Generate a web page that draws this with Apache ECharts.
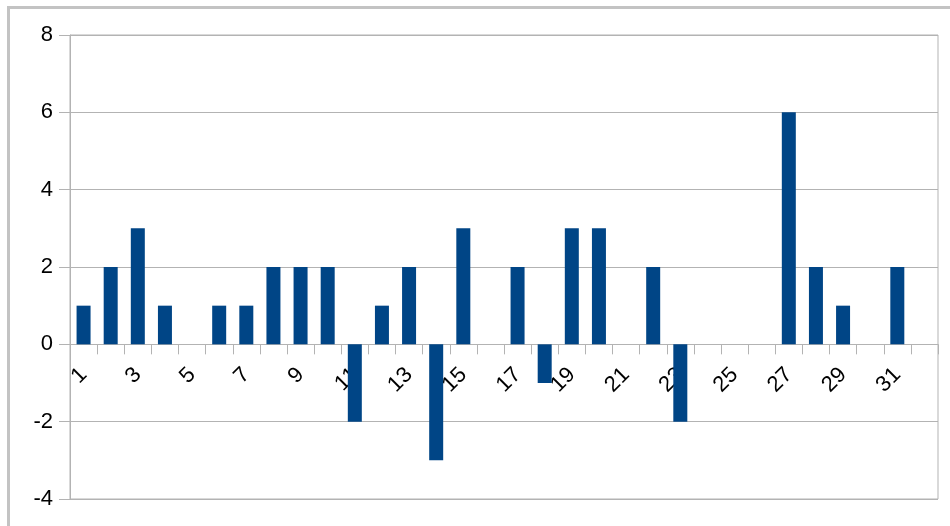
<!DOCTYPE html>
<html>
<head>
<meta charset="utf-8">
<script src="https://cdn.jsdelivr.net/npm/echarts@6/dist/echarts.min.js"></script>
<style>
  html, body { margin: 0; padding: 0; background: #fff; }
  #chart { width: 950px; height: 526px; }
</style>
</head>
<body>
<div id="chart"></div>
<script>
// categories 1..32 (32 has no value, its label is skipped)
const days = [];
for (let d = 1; d <= 32; d++) days.push(String(d));

const values = [1, 2, 3, 1, 0, 1, 1, 2, 2, 2, -2, 1, 2, -3, 3, 0,
  2, -1, 3, 3, 0, 2, -2, 0, 0, 0, 6, 2, 1, 0, 2, null];

const yMin = -4;
const yMax = 8;
const yStep = 2;

const font = "Liberation Sans";

const gridTop = 35;
const gridBottom = 27;
const plotHeight = 526 - gridTop - gridBottom;
// move the category axis up to the zero line
const zeroOffset = -plotHeight * (0 - yMin) / (yMax - yMin);

const chart = echarts.init(document.getElementById("chart"));

chart.setOption({
  animation: false,
  graphic: [
    {
      type: "rect",
      shape: { x: 8.5, y: 7.5, width: 960, height: 540 },
      style: { fill: "none", stroke: "#c3c3c3", lineWidth: 3 },
      silent: true,
    },
  ],
  grid: {
    left: 70,
    right: 12,
    top: gridTop,
    bottom: gridBottom,
    outerBoundsMode: "none",
    containLabel: false,
    show: true,
    borderColor: "#b3b3b3",
    borderWidth: 1,
  },
  xAxis: {
    type: "category",
    data: days,
    position: "bottom",
    offset: zeroOffset,
    axisLine: { onZero: false, lineStyle: { color: "#b3b3b3", width: 1 } },
    axisTick: {
      show: true,
      inside: false,
      length: 10,
      alignWithLabel: false,
      interval: 0,
      lineStyle: { color: "#b3b3b3" },
    },
    axisLabel: {
      interval: 1,
      rotate: 45,
      margin: 27,
      color: "#000",
      fontFamily: font,
      fontSize: 22,
    },
    splitLine: { show: false },
  },
  yAxis: {
    type: "value",
    min: yMin,
    max: yMax,
    interval: yStep,
    axisLine: { show: true, lineStyle: { color: "#b3b3b3" } },
    axisTick: { show: true, length: 11, lineStyle: { color: "#b3b3b3" } },
    axisLabel: {
      margin: 17,
      color: "#000",
      fontFamily: font,
      fontSize: 22,
    },
    splitLine: { show: true, lineStyle: { color: "#b3b3b3", width: 1 } },
  },
  series: [
    {
      type: "bar",
      data: values,
      barWidth: 14,
      itemStyle: { color: "#004586" },
    },
  ],
});
</script>
</body>
</html>
